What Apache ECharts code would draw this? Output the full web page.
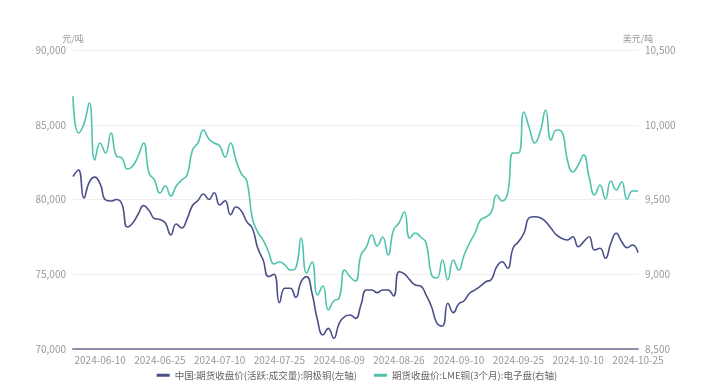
<!DOCTYPE html>
<html><head><meta charset="utf-8">
<script src="https://cdn.jsdelivr.net/npm/echarts@6/dist/echarts.min.js"></script>
<style>html,body{margin:0;padding:0;background:#fff}#c{width:714px;height:387px}</style>
</head><body><div id="c"></div>
<script>
const dates = [
'2024-06-03','2024-06-04','2024-06-05','2024-06-06','2024-06-07',
'2024-06-10','2024-06-11','2024-06-12','2024-06-13','2024-06-14',
'2024-06-17','2024-06-18','2024-06-19','2024-06-20','2024-06-21',
'2024-06-24','2024-06-25','2024-06-26','2024-06-27','2024-06-28',
'2024-07-01','2024-07-02','2024-07-03','2024-07-04','2024-07-05',
'2024-07-08','2024-07-09','2024-07-10','2024-07-11','2024-07-12',
'2024-07-15','2024-07-16','2024-07-17','2024-07-18','2024-07-19',
'2024-07-22','2024-07-23','2024-07-24','2024-07-25','2024-07-26',
'2024-07-29','2024-07-30','2024-07-31','2024-08-01','2024-08-02',
'2024-08-05','2024-08-06','2024-08-07','2024-08-08','2024-08-09',
'2024-08-12','2024-08-13','2024-08-14','2024-08-15','2024-08-16',
'2024-08-19','2024-08-20','2024-08-21','2024-08-22','2024-08-23',
'2024-08-26','2024-08-27','2024-08-28','2024-08-29','2024-08-30',
'2024-09-02','2024-09-03','2024-09-04','2024-09-05','2024-09-06',
'2024-09-09','2024-09-10','2024-09-11','2024-09-12','2024-09-13',
'2024-09-16','2024-09-17','2024-09-18','2024-09-19','2024-09-20',
'2024-09-23','2024-09-24','2024-09-25','2024-09-26','2024-09-27',
'2024-09-30','2024-10-01','2024-10-02','2024-10-03','2024-10-04',
'2024-10-07','2024-10-08','2024-10-09','2024-10-10','2024-10-11',
'2024-10-14','2024-10-15','2024-10-16','2024-10-17','2024-10-18',
'2024-10-21','2024-10-22','2024-10-23','2024-10-24','2024-10-25'
];
const chinaCopper = [
81540,81970,80100,81170,81500,81040,79970,79900,80000,79700,
78160,78430,79030,79600,79260,78730,78660,78430,77630,78360,
78090,78700,79600,79930,80370,80000,80450,79630,79920,78980,
79500,79230,78500,78090,76760,75950,74840,75000,73100,74060,
74060,73460,74500,74840,73730,71940,70940,71380,70720,71720,
72170,72270,72050,72940,73950,73950,73770,73950,73950,73550,
75170,75020,74620,74280,74210,73610,72830,71720,71540,73060,
72430,73010,73230,73730,73950,74210,74500,74650,75510,75840,
75400,76740,77180,77740,78780,78850,78780,78520,78070,77630,
77400,77290,77510,76840,77180,77510,76620,76740,76070,77070,
77740,77180,76780,76960,76440
];
const lmeCopper = [
10190,9945,10005,10145,9764,9878,9811,9945,9791,9778,
9704,9724,9791,9878,9677,9630,9543,9590,9523,9590,
9630,9664,9831,9878,9965,9905,9878,9858,9784,9878,
9764,9671,9624,9376,9283,9229,9149,9069,9082,9062,
9028,9042,9242,9008,9082,8861,8921,8761,8821,8841,
9028,8982,8955,9129,9182,9263,9189,9249,9129,9296,
9343,9416,9242,9276,9249,9209,8995,8975,9095,8962,
9095,9028,9129,9209,9276,9363,9383,9416,9530,9490,
9543,9811,9811,10085,9978,9878,9952,10099,9898,9965,
9952,9764,9684,9731,9798,9650,9530,9597,9503,9624,
9564,9617,9503,9557,9557
];
const seriesNames = ['中国:期货收盘价(活跃:成交量):阴极铜(左轴)','期货收盘价:LME铜(3个月):电子盘(右轴)'];
const leftUnit = '元/吨', rightUnit = '美元/吨';

const chart = echarts.init(document.getElementById('c'), null, {renderer:'canvas'});
const fnt = '"Microsoft YaHei", "Noto Sans CJK SC", sans-serif';
chart.setOption({
  animation:false,
  grid:{left:73,right:76,top:50,bottom:38},
  legend:{bottom:2,left:'center',itemWidth:13,itemHeight:3,itemGap:17,icon:'rect',
    textStyle:{color:'#666',fontSize:9.5,fontFamily:fnt},data:seriesNames},
  xAxis:{type:'category',data:dates,boundaryGap:false,
    axisLine:{lineStyle:{color:'#8e8ea6',width:2}},axisTick:{show:false},
    axisLabel:{color:'#999',fontSize:10,margin:6,fontFamily:fnt,
      interval:(i)=> i>=5 && (i-5)%11===0}},
  yAxis:[
    {type:'value',min:70000,max:90000,interval:5000,name:leftUnit,
     nameTextStyle:{color:'#999',fontSize:9,align:'center',fontFamily:fnt},nameGap:7,
     axisLine:{show:false},axisTick:{show:false},
     axisLabel:{color:'#999',fontSize:10,margin:7,fontFamily:fnt,formatter:v=>v.toLocaleString('en-US')},
     splitLine:{lineStyle:{color:'#eeeeee'}}},
    {type:'value',min:8500,max:10500,interval:500,name:rightUnit,
     nameTextStyle:{color:'#999',fontSize:9,align:'center',fontFamily:fnt},nameGap:7,
     axisLine:{show:false},axisTick:{show:false},
     axisLabel:{color:'#999',fontSize:10,margin:7,fontFamily:fnt,formatter:v=>v.toLocaleString('en-US')},
     splitLine:{show:false}}
  ],
  series:[
    {name:seriesNames[0],type:'line',yAxisIndex:0,data:chinaCopper,smooth:true,showSymbol:false,
     lineStyle:{color:'#4b4f88',width:1.6},itemStyle:{color:'#4b4f88'}},
    {name:seriesNames[1],type:'line',yAxisIndex:1,data:lmeCopper,smooth:true,showSymbol:false,
     lineStyle:{color:'#4fc3ae',width:1.6},itemStyle:{color:'#4fc3ae'}}
  ]
});
</script></body></html>
